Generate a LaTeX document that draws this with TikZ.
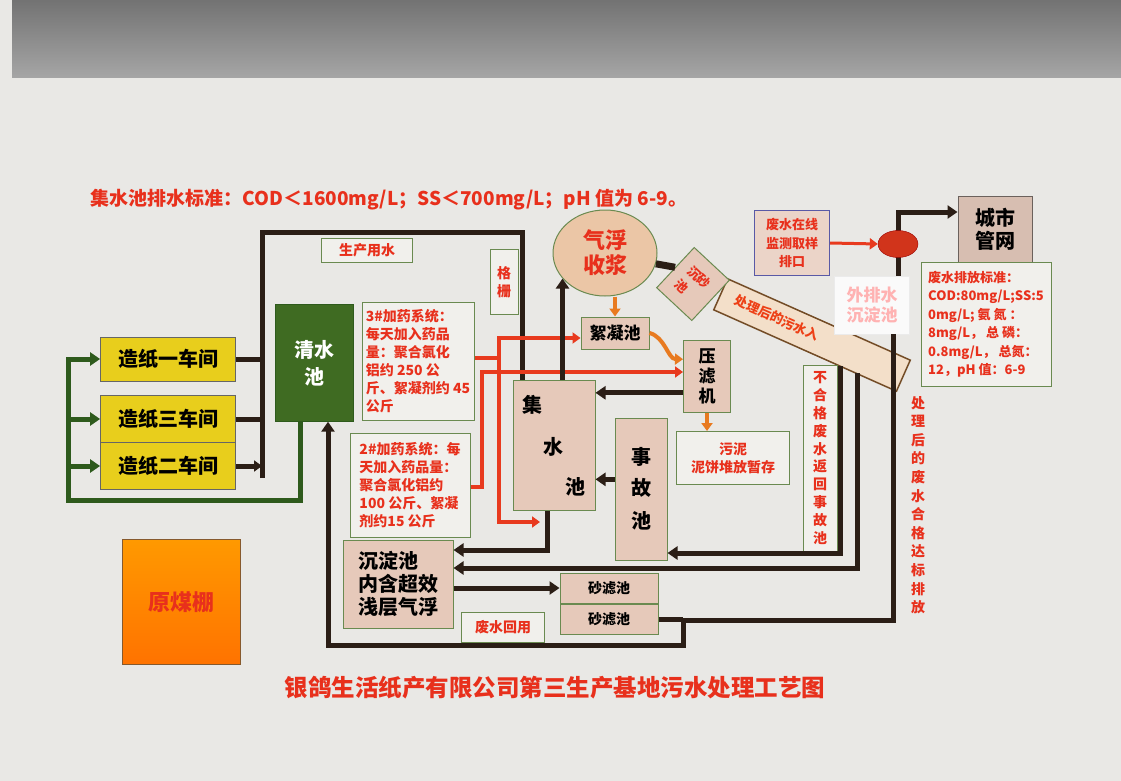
\documentclass[tikz,border=0pt]{standalone}
\usepackage{fontspec}
\setmainfont{Noto Sans CJK SC}
\usetikzlibrary{arrows.meta,shapes.geometric}

\definecolor{pipe}{HTML}{2B1E16}
\definecolor{leaf}{HTML}{2E5A1C}
\definecolor{redtxt}{HTML}{E8301C}
\definecolor{redln}{HTML}{E83A1E}
\definecolor{orgln}{HTML}{E87A20}
\definecolor{poolfill}{HTML}{E6C9BA}
\definecolor{poolline}{HTML}{6A8A50}
\definecolor{notefill}{HTML}{F1F0EC}
\definecolor{yelfill}{HTML}{E8CE1C}
\definecolor{qfill}{HTML}{3F6B22}
\definecolor{qffill}{HTML}{EBC6A6}
\definecolor{scrfill}{HTML}{E9E8E5}

\newcommand\cnXL{\fontsize{22}{25}\selectfont\bfseries}
\newcommand\cnL{\fontsize{20}{23}\selectfont\bfseries}
\newcommand\cnM{\fontsize{17}{20}\selectfont\bfseries}
\newcommand\cnS{\fontsize{14}{18}\selectfont\bfseries}
\newcommand\cnXS{\fontsize{13}{18.5}\selectfont\bfseries}

\begin{document}
\begin{tikzpicture}[x=1pt,y=1pt,yscale=-1,
  every node/.style={inner sep=1pt},
  pool/.style={draw=poolline,line width=1pt,fill=poolfill,align=center,font=\cnL},
  note/.style={draw=poolline,line width=1pt,fill=notefill,align=center,text=redtxt,font=\cnS},
  yel/.style={draw=black!60,line width=0.8pt,fill=yelfill,minimum width=135,font=\cnL},
  dline/.style={draw=pipe,line width=5pt},
  gline/.style={draw=leaf,line width=5pt},
  rline/.style={draw=redln,line width=4pt},
  oline/.style={draw=orgln,line width=4pt},
  tip/.style={-{Triangle[length=10pt,width=13pt]}},
  stip/.style={-{Triangle[length=8pt,width=11pt]}},
]
\useasboundingbox (0,0) rectangle (1121,781);
% screen and photo edge
\fill[scrfill] (0,0) rectangle (1121,781);
\shade[top color=black!55,bottom color=black!35] (12,0) rectangle (1121,78);

% workshops and clear water
\node[yel,minimum height=44] (zz1) at (168,359) {造纸一车间};
\node[yel,minimum height=47] (zz3) at (168,419) {造纸三车间};
\node[yel,minimum height=47] (zz2) at (168,466) {造纸二车间};
\node[draw=leaf,fill=qfill,minimum width=78,minimum height=117,text=white,font=\cnL,align=center] (qsc) at (314,363) {清水\\[4pt]池};
\node[note,minimum width=91,minimum height=24] (scys) at (367,250) {生产用水};
\node[note,minimum width=28,minimum height=65] (gs) at (504,282) {格\\栅};

% dosing
\node[note,minimum width=112,minimum height=118,align=left] (jy3) at (418,361) {3\#加药系统：\\每天加入药品\\量：聚合氯化\\铝约 250 公\\斤、絮凝剂约 45\\公斤};
\node[note,minimum width=120,minimum height=104,align=left] (jy2) at (410,485) {2\#加药系统：每\\天加入药品量：\\聚合氯化铝约\\100 公斤、絮凝\\剂约15 公斤};

% pools
\node[pool,minimum width=82,minimum height=130] (jsc) at (554,445) {};
\node[font=\cnL] (jsc1) at (532,405) {集};
\node[font=\cnL] (jsc2) at (553,447) {水};
\node[font=\cnL] (jsc3) at (575,487) {池};
\node[pool,minimum width=52,minimum height=142] (sgc) at (641,489) {事\\[8pt]故\\[10pt]池};
\node[pool,minimum width=47,minimum height=72,font=\cnM] (ylj) at (707,376) {压\\滤\\机};
\node[note,minimum width=113,minimum height=53] (wn) at (733,458) {污泥\\泥饼堆放暂存};
\node[pool,minimum width=68,minimum height=32,font=\cnM] (xnc) at (615,333) {絮凝池};
\node[ellipse,draw=poolline,line width=1pt,fill=qffill,minimum width=104,minimum height=86,text=redtxt,font=\cnXL,align=center] (qf) at (605,253) {气浮\\收浆};
\node[draw=brown!60!black,line width=1.5pt,fill=notefill!85!orange,rotate=-24,minimum width=200,minimum height=34] (band) at (812,335) {};
\node[rotate=-24,text=redtxt!80!orange,font=\cnXS] (bandtxt) at (777,318) {处理后的污水入};
\node[pool,rotate=-43,minimum width=48,minimum height=55,text=redtxt,font=\cnXS,align=left] (csc) at (693,284) {沉砂\\池};
\node[draw=black!8,fill=white!96!gray,minimum width=75,minimum height=58,text=red!30,font=\cnM,align=center] (wps) at (872,305) {外排水\\沉淀池};
\node[draw=blue!30!gray,line width=1pt,fill=poolfill!80!white,minimum width=75,minimum height=65,text=redtxt,font=\cnXS,align=center] (cz) at (792,243) {废水在线\\监测取样\\排口};
\node[draw=pipe!70,line width=1pt,fill=poolfill!85!gray,minimum width=74,minimum height=66,font=\cnL,align=center] (cs) at (995,229) {城市\\管网};
\node[note,minimum width=130,minimum height=124,align=left,font=\cnXS] (bz) at (986,324) {废水排放标准：\\COD:80mg/L;SS:5\\0mg/L; 氨\ 氮 ：\\8mg/L， 总\ 磷：\\0.8mg/L， 总氮：\\12，pH 值：6-9};
\node[note,minimum width=34,minimum height=186,font=\fontsize{14}{17.8}\selectfont\bfseries] (bhg) at (820,458) {不\\合\\格\\废\\水\\返\\回\\事\\故\\池};
\node[pool,minimum width=110,minimum height=88,align=left] (cdc) at (398,584) {沉淀池\\内含超效\\浅层气浮};
\node[pool,minimum width=98,minimum height=30,font=\cnS] (slc1) at (609,588) {砂滤池};
\node[pool,minimum width=98,minimum height=30,font=\cnS] (slc2) at (609,619) {砂滤池};
\node[note,minimum width=83,minimum height=30] (hy) at (503,627) {废水回用};
\node[draw=brown!70!black,top color=orange!80!yellow,bottom color=orange!90!red,minimum width=118,minimum height=125,text=redtxt,font=\cnXL] (ymp) at (181,602) {原煤棚};

% titles
\node[text=redtxt,font=\fontsize{19}{21}\selectfont\bfseries] (tt) at (389,200) {集水池排水标准：COD＜1600mg/L；SS＜700mg/L；pH 值为 6-9。};
\node[text=redtxt,font=\fontsize{23.5}{26}\selectfont\bfseries] (bt) at (555,688) {银鸽生活纸产有限公司第三生产基地污水处理工艺图};
\node[text=redtxt,align=center,font=\fontsize{14}{18.6}\selectfont\bfseries] (pf) at (918,505) {处\\理\\后\\的\\废\\水\\合\\格\\达\\标\\排\\放};

% brown trunk from workshops
\coordinate (topL) at (262,232);
\coordinate (topR) at (522,232);
\coordinate (trunkB) at (262,478);
\draw[dline] (trunkB) -- (topL) -- (topR) -- (topR |- jsc.north);
\draw[dline] (zz1.east) -- (zz1.east -| topL);
\draw[dline] (zz3.east) -- (zz3.east -| topL);
\draw[dline,stip] (zz2.east) -- (zz2.east -| topL);

% green supply
\coordinate (gBL) at (68,500);
\coordinate (gBR) at (300,500);
\draw[gline,tip] (qsc.south -| gBR) -- (gBR) -- (gBL) |- (zz1.west);
\draw[gline,tip] (gBL |- zz3.west) -- (zz3.west);
\draw[gline,tip] (gBL |- zz2.west) -- (zz2.west);

% red dosing lines
\coordinate (rA) at (499,338);
\coordinate (rB) at (499,522);
\coordinate (rC) at (499,358);
\coordinate (rIn) at (540,522);
\draw[rline,stip] (rB) -- (rA) -- (rA -| xnc.west);
\draw[rline,stip] (rA) -- (rB) -- (rIn);
\draw[rline] (jy3.east |- rC) -- (rC);
\coordinate (rD) at (482,487);
\coordinate (rE) at (482,372);
\draw[rline,stip] (jy2.east |- rD) -- (rD) -- (rE) -- (rE -| ylj.west);

% sludge side
\draw[dline,tip] (jsc.north -| qf.211) -- (qf.211);
\draw[oline,stip] (qf.south -| xnc.north) -- (xnc.north);
\draw[oline,stip] (xnc.east) .. controls (665,337) and (668,359) .. (ylj.145);
\draw[oline,stip] (ylj.south) -- (ylj.south |- wn.north);
\draw[dline,line width=7pt] (qf.-12) -- (csc.west);
\draw[dline,tip] (ylj.-145) -- (ylj.-145 -| jsc.east);
\draw[dline,tip] (sgc.160) -- (sgc.160 -| jsc.east);

% collecting pool to settling and filters
\coordinate (jB) at (547,550);
\draw[dline,tip] (jsc.south -| jB) -- (jB) -- (jB -| cdc.east);
\draw[dline,tip] (cdc.east |- slc1.west) -- (slc1.west);

% outlet pipe and returns
\coordinate (b1) at (840,366);
\coordinate (s1) at (840,553);
\draw[dline,tip] (b1) -- (s1) -- (s1 -| sgc.east);
\coordinate (b2) at (857,373);
\coordinate (s2) at (857,568);
\draw[dline,tip] (b2) -- (s2) -- (s2 -| cdc.east);
\coordinate (w1) at (893,620);
\coordinate (w2) at (683,620);
\coordinate (w3) at (683,645);
\coordinate (w4) at (328,645);
\draw[dline,tip] (wps.south -| w1) -- (w1) -- (w2) -- (w3) -- (w4) -- (w4 |- qsc.south);
\draw[dline] (slc2.east) -- (slc2.east -| w2);

% discharge to city
\coordinate (pTop) at (898,212);
\draw[dline,tip] (wps.north -| pTop) -- (pTop) -- (pTop -| cs.west);
\node[ellipse,draw=red!60!black,fill=redln!90!black,minimum width=40,minimum height=27] (hq) at (898,244) {};
\draw[rline,line width=3pt,stip] (cz.east) -- (hq.west);
\end{tikzpicture}
\end{document}
